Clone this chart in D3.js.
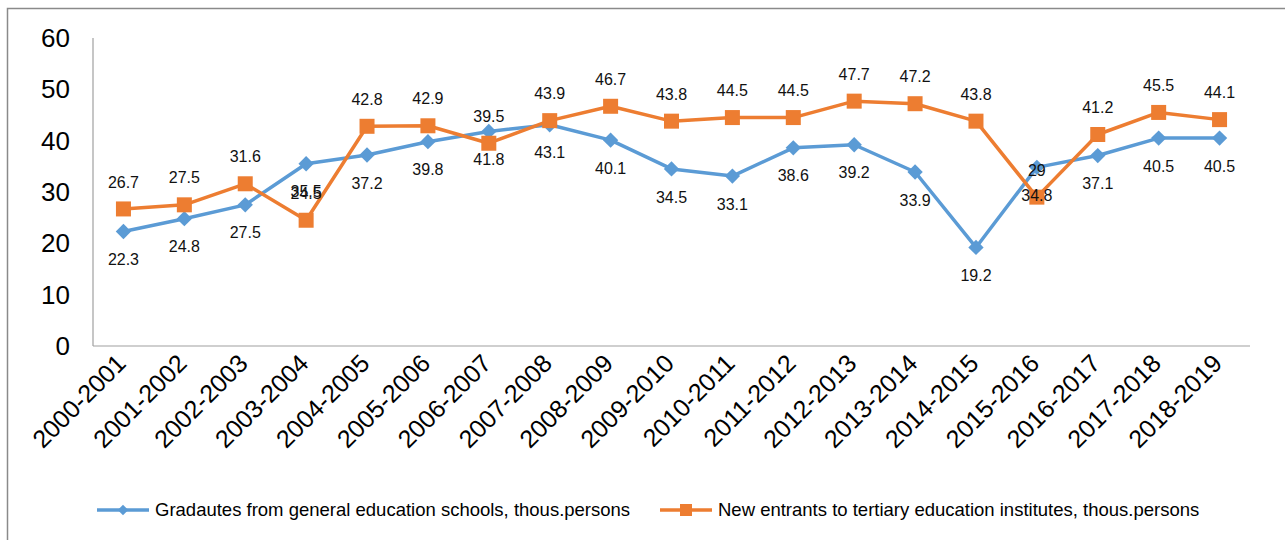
<!DOCTYPE html>
<html>
<head>
<meta charset="utf-8">
<script src="https://cdn.jsdelivr.net/npm/d3@7"></script>
<style>
  body { margin: 0; background: #fff; }
  svg { display: block; font-family: "Liberation Sans", Arial, sans-serif; }
</style>
</head>
<body>
<div id="output"></div>
<script>
// school years on the x axis
const years = ["2000-2001", "2001-2002", "2002-2003", "2003-2004", "2004-2005", "2005-2006",
  "2006-2007", "2007-2008", "2008-2009", "2009-2010", "2010-2011", "2011-2012", "2012-2013",
  "2013-2014", "2014-2015", "2015-2016", "2016-2017", "2017-2018", "2018-2019"];

// thous. persons
const graduates = [22.3, 24.8, 27.5, 35.5, 37.2, 39.8, 41.8, 43.1, 40.1, 34.5, 33.1, 38.6, 39.2,
  33.9, 19.2, 34.8, 37.1, 40.5, 40.5];
const entrants = [26.7, 27.5, 31.6, 24.5, 42.8, 42.9, 39.5, 43.9, 46.7, 43.8, 44.5, 44.5, 47.7,
  47.2, 43.8, 29, 41.2, 45.5, 44.1];

const yTicks = [0, 10, 20, 30, 40, 50, 60];

const seriesNames = ["Gradautes from general education schools, thous.persons",
  "New entrants to tertiary education institutes, thous.persons"];

const width = 1285, height = 540;
const blue = "#5b9bd5", orange = "#ed7d31";

const svg = d3.select("#output").append("svg")
  .attr("width", width)
  .attr("height", height);

// outer chart frame (only top and left edges are visible)
svg.append("path")
  .attr("d", "M7.5,545 V8.5 H1290")
  .attr("fill", "none")
  .attr("stroke", "#8a8a8a")
  .attr("stroke-width", 1.5);

const x = d3.scaleBand().domain(years).range([93, 1250]);
const y = d3.scaleLinear().domain([0, 60]).range([346, 38]);
const cx = d => x(d) + x.bandwidth() / 2;

// axes lines
svg.append("line")
  .attr("x1", 93).attr("x2", 93).attr("y1", y(60)).attr("y2", y(0))
  .attr("stroke", "#a0a0a0").attr("stroke-width", 1.2);
svg.append("line")
  .attr("x1", 93).attr("x2", 1250).attr("y1", y(0)).attr("y2", y(0))
  .attr("stroke", "#a0a0a0").attr("stroke-width", 1.2);

// y tick labels
svg.append("g")
  .selectAll("text")
  .data(yTicks)
  .join("text")
  .attr("x", 70)
  .attr("y", d => y(d))
  .attr("dy", "0.35em")
  .attr("text-anchor", "end")
  .attr("font-size", 26)
  .attr("fill", "#000")
  .text(d => d);

// x tick labels, rotated
svg.append("g")
  .selectAll("text")
  .data(years)
  .join("text")
  .attr("transform", d => `translate(${cx(d) + 4},${y(0) + 19}) rotate(-45)`)
  .attr("text-anchor", "end")
  .attr("font-size", 25)
  .attr("fill", "#000")
  .text(d => d);

const line = d3.line()
  .x((d, i) => cx(years[i]))
  .y(d => y(d));

// graduates series
svg.append("path")
  .datum(graduates)
  .attr("d", line)
  .attr("fill", "none")
  .attr("stroke", blue)
  .attr("stroke-width", 3.5)
  .attr("stroke-linejoin", "round");

svg.append("g")
  .selectAll("path")
  .data(graduates)
  .join("path")
  .attr("d", d3.symbol(d3.symbolDiamond2, 150))
  .attr("transform", (d, i) => `translate(${cx(years[i])},${y(d)})`)
  .attr("fill", blue);

// entrants series
svg.append("path")
  .datum(entrants)
  .attr("d", line)
  .attr("fill", "none")
  .attr("stroke", orange)
  .attr("stroke-width", 3.5)
  .attr("stroke-linejoin", "round");

svg.append("g")
  .selectAll("rect")
  .data(entrants)
  .join("rect")
  .attr("x", (d, i) => cx(years[i]) - 7.5)
  .attr("y", d => y(d) - 7.5)
  .attr("width", 15)
  .attr("height", 15)
  .attr("fill", orange);

// data labels: graduates below, entrants above
svg.append("g")
  .selectAll("text")
  .data(graduates)
  .join("text")
  .attr("x", (d, i) => cx(years[i]))
  .attr("y", d => y(d) + 28)
  .attr("dy", "0.35em")
  .attr("text-anchor", "middle")
  .attr("font-size", 16)
  .attr("fill", "#111")
  .text(d => d);

svg.append("g")
  .selectAll("text")
  .data(entrants)
  .join("text")
  .attr("x", (d, i) => cx(years[i]))
  .attr("y", d => y(d) - 27)
  .attr("dy", "0.35em")
  .attr("text-anchor", "middle")
  .attr("font-size", 16)
  .attr("fill", "#111")
  .text(d => d);

// legend
const legend = [
  { name: seriesNames[0], color: blue, x: 97, shape: "diamond" },
  { name: seriesNames[1], color: orange, x: 660, shape: "square" }
];
const lg = svg.append("g")
  .selectAll("g")
  .data(legend)
  .join("g")
  .attr("transform", d => `translate(${d.x},510)`);

lg.append("line")
  .attr("x1", 0).attr("x2", 52)
  .attr("stroke", d => d.color)
  .attr("stroke-width", 3.5);

lg.filter(d => d.shape === "diamond").append("path")
  .attr("d", d3.symbol(d3.symbolDiamond2, 70))
  .attr("transform", "translate(26,0)")
  .attr("fill", d => d.color);

lg.filter(d => d.shape === "square").append("rect")
  .attr("x", 20).attr("y", -6).attr("width", 12).attr("height", 12)
  .attr("fill", d => d.color);

lg.append("text")
  .attr("x", 58)
  .attr("dy", "0.35em")
  .attr("font-size", 18.5)
  .attr("fill", "#000")
  .text(d => d.name);
</script>
</body>
</html>
